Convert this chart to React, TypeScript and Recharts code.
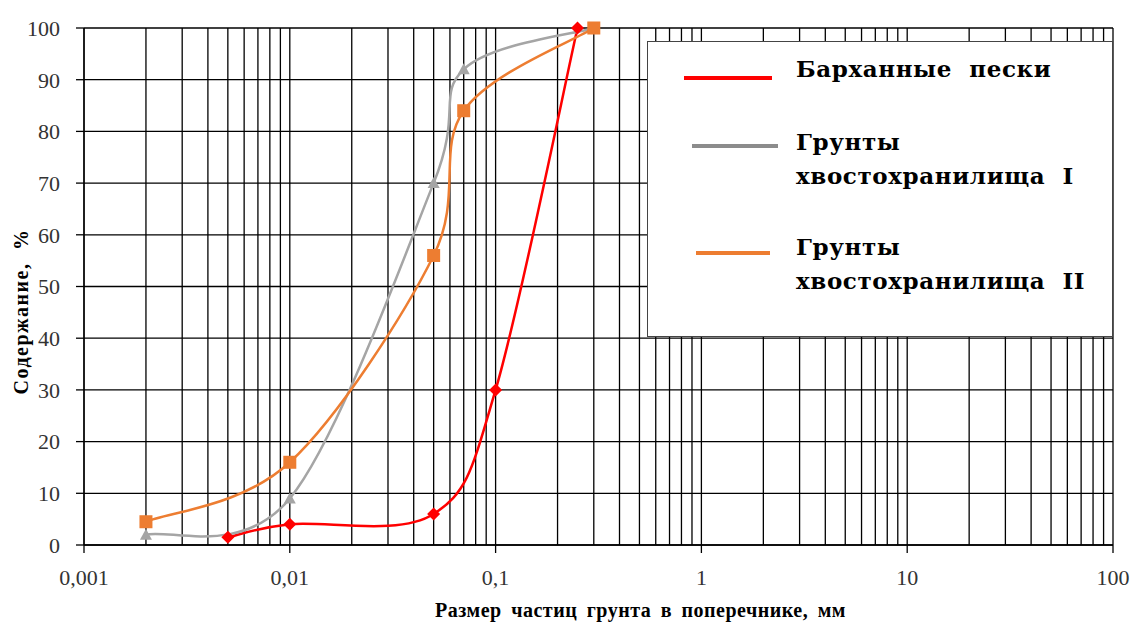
import { LineChart, Line, XAxis, YAxis, CartesianGrid, Legend } from 'recharts'

// particle size, mm
const sandSize = [0.005, 0.01, 0.05, 0.1, 0.25]
const sandPct = [1.5, 4, 6, 30, 100]
const tailings1Size = [0.002, 0.01, 0.05, 0.07, 0.3]
const tailings1Pct = [2, 9, 70, 92, 100]
const tailings2Size = [0.002, 0.01, 0.05, 0.07, 0.3]
const tailings2Pct = [4.5, 16, 56, 84, 100]

const xDecades = [0.001, 0.01, 0.1, 1, 10, 100]
const xDecadeLabels = ['0,001', '0,01', '0,1', '1', '10', '100']
const yTicks = [0, 10, 20, 30, 40, 50, 60, 70, 80, 90, 100]

const seriesNames = ['Барханные  пески', 'Грунты', 'хвостохранилища  I', 'Грунты', 'хвостохранилища  II']

const RED = '#ff0000'
const GRAY = '#a5a5a5'
const ORANGE = '#ed7d31'

const toPoints = (xs: number[], ys: number[]) => xs.map((x, i) => ({ x, y: ys[i] }))

const sand = toPoints(sandSize, sandPct)
const tail1 = toPoints(tailings1Size, tailings1Pct)
const tail2 = toPoints(tailings2Size, tailings2Pct)

// every 1..9 step inside each decade -> log grid
const xGrid: number[] = []
xDecades.forEach((d, i) => {
  if (i === xDecades.length - 1) { xGrid.push(d); return }
  for (let m = 1; m < 10; m++) xGrid.push(+(d * m).toPrecision(3))
})

// smoothed line like the spreadsheet one (catmull-rom as bezier)
const smoothCurve = (context: any) => {
  let pts: number[][] = []
  return {
    areaStart() {},
    areaEnd() {},
    lineStart() { pts = [] },
    point(x: number, y: number) { pts.push([+x, +y]) },
    lineEnd() {
      if (!pts.length) return
      context.moveTo(pts[0][0], pts[0][1])
      for (let i = 0; i < pts.length - 1; i++) {
        const p0 = pts[i - 1] || pts[i]
        const p1 = pts[i]
        const p2 = pts[i + 1]
        const p3 = pts[i + 2] || pts[i + 1]
        context.bezierCurveTo(
          p1[0] + (p2[0] - p0[0]) / 6, p1[1] + (p2[1] - p0[1]) / 6,
          p2[0] - (p3[0] - p1[0]) / 6, p2[1] - (p3[1] - p1[1]) / 6,
          p2[0], p2[1],
        )
      }
    },
  }
}

const Diamond = (p: any) => {
  const { cx, cy, index } = p
  return <path key={'d' + index} d={`M${cx},${cy - 6.5}L${cx + 6.5},${cy}L${cx},${cy + 6.5}L${cx - 6.5},${cy}Z`} fill={RED} />
}
const Triangle = (p: any) => {
  const { cx, cy, index } = p
  return <path key={'t' + index} d={`M${cx},${cy - 6}L${cx + 6},${cy + 5}L${cx - 6},${cy + 5}Z`} fill={GRAY} />
}
const Square = (p: any) => {
  const { cx, cy, index } = p
  return <rect key={'s' + index} x={cx - 6.5} y={cy - 6.5} width={13} height={13} fill={ORANGE} />
}

const XTick = (p: any) => {
  const { x, y, payload } = p
  const idx = xDecades.indexOf(payload.value)
  if (idx < 0) return <g />
  return (
    <g>
      <line x1={x} x2={x} y1={y - 8} y2={y} stroke="#000" strokeWidth={1.3} />
      <text x={x} y={y + 32} textAnchor="middle" fontSize={22} fill="#333" fontFamily="'Liberation Serif', serif">
        {xDecadeLabels[idx]}
      </text>
    </g>
  )
}

const LegendBox = () => {
  const font = { fontFamily: "'DejaVu Serif', serif", fontWeight: 700, fontSize: 23, fill: '#000', letterSpacing: 0.6 }
  return (
    <div style={{ width: 466, height: 296, background: '#fff', border: '1.5px solid #444', boxSizing: 'border-box' }}>
      <svg width={463} height={293}>
        <line x1={36} x2={124} y1={36} y2={36} stroke={RED} strokeWidth={4} />
        <line x1={44} x2={130} y1={104} y2={104} stroke="#8c8c8c" strokeWidth={4} />
        <line x1={48} x2={122} y1={211} y2={211} stroke={ORANGE} strokeWidth={4} />
        <text x={148} y={29} dominantBaseline="middle" {...font} style={{ whiteSpace: 'pre' }}>{seriesNames[0]}</text>
        <text x={148} y={102} dominantBaseline="middle" {...font}>{seriesNames[1]}</text>
        <text x={148} y={136} dominantBaseline="middle" {...font} style={{ whiteSpace: 'pre' }}>{seriesNames[2]}</text>
        <text x={148} y={207} dominantBaseline="middle" {...font}>{seriesNames[3]}</text>
        <text x={148} y={241} dominantBaseline="middle" {...font} style={{ whiteSpace: 'pre' }}>{seriesNames[4]}</text>
      </svg>
    </div>
  )
}

export default function App() {
  return (
    <div style={{ position: 'absolute', left: 0, top: 0, background: '#fff' }}>
      <LineChart width={1135} height={622} margin={{ top: 28, right: 22, bottom: 0, left: 0 }}>
        <CartesianGrid stroke="#000" strokeWidth={1.3} />
        <XAxis
          dataKey="x"
          type="number"
          scale="log"
          domain={[0.001, 100]}
          ticks={xGrid}
          interval={0}
          allowDataOverflow
          height={77}
          tickLine={false}
          axisLine={{ stroke: '#000', strokeWidth: 1.3 }}
          tick={<XTick />}
          label={{
            content: (props: any) => {
              const vb = props.viewBox
              return (
                <text x={vb.x + vb.width / 2 + 42} y={vb.y + 72} textAnchor="middle" fontSize={20} fontWeight={700} fill="#000" letterSpacing={0.5} wordSpacing={4} fontFamily="'Liberation Serif', serif">
                  Размер частиц грунта в поперечнике, мм
                </text>
              )
            },
          }}
        />
        <YAxis
          type="number"
          domain={[0, 100]}
          ticks={yTicks}
          interval={0}
          width={84}
          tickSize={8}
          tickMargin={16}
          tickLine={{ stroke: '#000', strokeWidth: 1.3 }}
          axisLine={{ stroke: '#000', strokeWidth: 1.3 }}
          tick={{ fontSize: 22, fill: '#333', fontFamily: "'Liberation Serif', serif" }}
          label={{
            content: (props: any) => {
              const vb = props.viewBox
              const cy = vb.y + vb.height / 2 + 25
              return (
                <text x={28} y={cy} transform={`rotate(-90 28 ${cy})`} textAnchor="middle" fontSize={20} fontWeight={700} fill="#000" letterSpacing={1.5} wordSpacing={6} fontFamily="'Liberation Serif', serif">
                  Содержание, %
                </text>
              )
            },
          }}
        />
        <Legend
          layout="vertical"
          align="center"
          verticalAlign="middle"
          wrapperStyle={{ position: 'absolute', left: 647, top: 41, width: 466 }}
          content={<LegendBox />}
        />
        <Line data={sand} dataKey="y" name="Барханные пески" type={smoothCurve as any} stroke={RED} strokeWidth={2.5} dot={Diamond} isAnimationActive={false} />
        <Line data={tail1} dataKey="y" name="Грунты хвостохранилища I" type={smoothCurve as any} stroke={GRAY} strokeWidth={2.5} dot={Triangle} isAnimationActive={false} />
        <Line data={tail2} dataKey="y" name="Грунты хвостохранилища II" type={smoothCurve as any} stroke={ORANGE} strokeWidth={2.5} dot={Square} isAnimationActive={false} />
      </LineChart>
    </div>
  )
}
